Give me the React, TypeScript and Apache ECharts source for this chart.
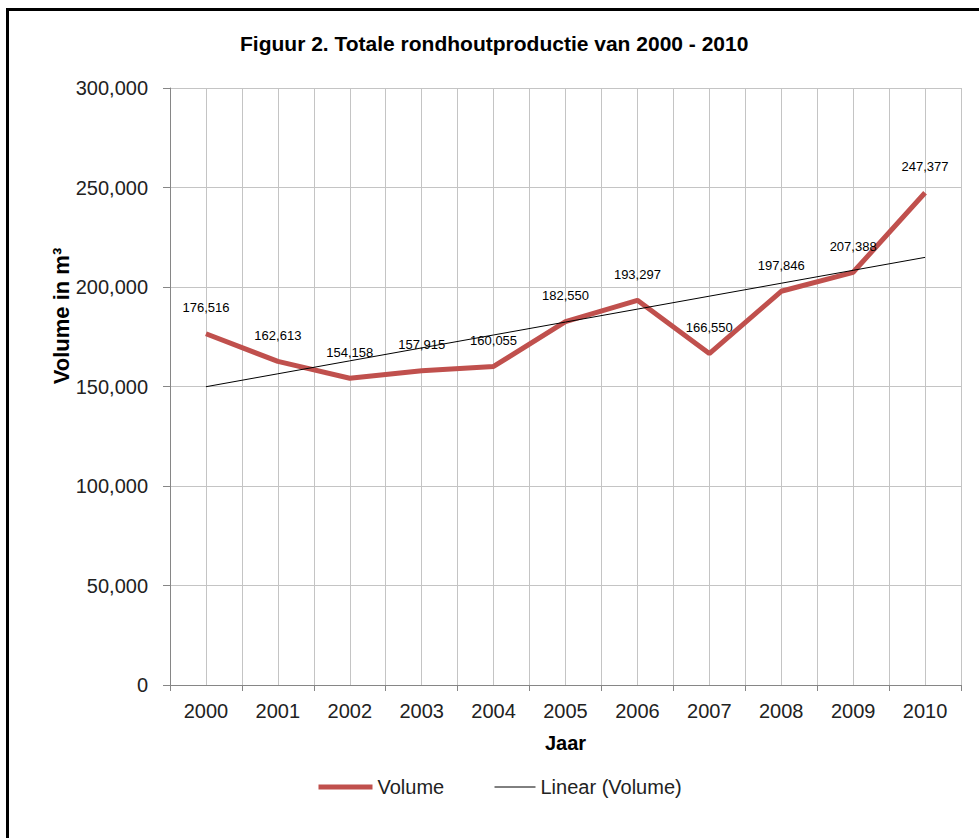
import React, { useEffect, useRef } from "react";
import * as echarts from "echarts";

const years = ["2000", "2001", "2002", "2003", "2004", "2005", "2006", "2007", "2008", "2009", "2010"];
const volume = [176516, 162613, 154158, 157915, 160055, 182550, 193297, 166550, 197846, 207388, 247377];
const yTicks = { min: 0, max: 300000, interval: 50000 };
const titleText = "Figuur 2. Totale rondhoutproductie van 2000 - 2010";

// Linear (least-squares) trendline derived from the Volume series, as the spreadsheet does
function linearFit(vals: number[]): number[] {
  const n = vals.length;
  const mx = (n - 1) / 2;
  const my = vals.reduce((a, b) => a + b, 0) / n;
  let sxy = 0;
  let sxx = 0;
  vals.forEach((v, i) => {
    sxy += (i - mx) * (v - my);
    sxx += (i - mx) * (i - mx);
  });
  const slope = sxy / sxx;
  const b = my - slope * mx;
  return vals.map((_, i) => b + slope * i);
}
const trend = linearFit(volume);

const fmt = (v: number) => Math.round(v).toLocaleString("en-US");

export default function App() {
  const ref = useRef<HTMLDivElement>(null);
  useEffect(() => {
    if (!ref.current) return;
    const chart = echarts.init(ref.current, undefined, { renderer: "svg" });
    const font = "'Liberation Sans', Arial, sans-serif";
    const clear = "rgba(0,0,0,0)";
    chart.setOption({
      animation: false,
      backgroundColor: "#ffffff",
      textStyle: { fontFamily: font },
      title: {
        text: titleText,
        left: 240,
        top: 33,
        padding: 0,
        textStyle: { fontFamily: font, fontSize: 21, fontWeight: "bold", color: "#000" },
      },
      grid: { left: 170, right: 18, top: 88, bottom: 153, containLabel: false },
      legend: [
        {
          data: ["Volume"],
          left: 316,
          top: 777,
          padding: 0,
          itemWidth: 54,
          itemHeight: 14,
          lineStyle: { width: 5, color: "#C0504D" },
          textStyle: { fontFamily: font, fontSize: 20, color: "#222" },
        },
        {
          data: ["Linear (Volume)"],
          left: 494,
          top: 777,
          padding: 0,
          itemWidth: 41,
          itemHeight: 14,
          lineStyle: { width: 1, color: "#000" },
          textStyle: { fontFamily: font, fontSize: 20, color: "#222" },
        },
      ],
      xAxis: [
        {
          type: "category",
          data: years,
          boundaryGap: true,
          name: "Jaar",
          nameLocation: "middle",
          nameGap: 48,
          nameTextStyle: { fontFamily: font, fontSize: 20, fontWeight: "bold", color: "#000" },
          axisLine: { show: true, lineStyle: { color: "#868686", width: 1 } },
          axisTick: { show: true, interval: 0, length: 6, alignWithLabel: false, lineStyle: { color: "#868686" } },
          axisLabel: { interval: 0, margin: 16, fontSize: 20, color: "#222", fontFamily: font },
          splitLine: { show: false },
        },
        {
          type: "value",
          min: 0,
          max: 22,
          interval: 1,
          position: "bottom",
          axisLine: { show: false },
          axisTick: { show: false },
          axisLabel: { show: false },
          splitLine: { show: true, lineStyle: { color: "#c4c4c4", width: 1 } },
        },
      ],
      yAxis: {
        type: "value",
        min: yTicks.min,
        max: yTicks.max,
        interval: yTicks.interval,
        axisLine: { show: true, lineStyle: { color: "#868686", width: 1 } },
        axisTick: { show: true, length: 7, inside: false, lineStyle: { color: "#868686" } },
        axisLabel: { margin: 22, fontSize: 20, color: "#222", fontFamily: font, formatter: (v: number) => fmt(v) },
        splitLine: { show: true, lineStyle: { color: "#c4c4c4", width: 1 } },
      },
      graphic: [
        {
          type: "text",
          x: 61,
          y: 316,
          rotation: Math.PI / 2,
          style: {
            text: "Volume in m³",
            fontFamily: font,
            fontSize: 22,
            fontWeight: "bold",
            fill: "#000",
            align: "center",
            verticalAlign: "middle",
          },
        },
        {
          type: "rect",
          shape: { x: 7.5, y: 9.5, width: 1200, height: 1200 },
          style: { fill: "none", stroke: "#000", lineWidth: 3 },
          silent: true,
        },
      ],
      series: [
        {
          name: "Volume",
          type: "line",
          data: volume,
          xAxisIndex: 0,
          symbol: "circle",
          symbolSize: 1,
          showSymbol: true,
          itemStyle: { color: clear },
          lineStyle: { color: "#C0504D", width: 5 },
          label: {
            show: true,
            position: "top",
            distance: 19,
            fontSize: 13,
            color: "#000",
            fontFamily: font,
            formatter: (p: any) => fmt(p.value),
          },
          z: 2,
        },
        {
          name: "Linear (Volume)",
          type: "line",
          data: trend,
          xAxisIndex: 0,
          symbol: "none",
          lineStyle: { color: "#000", width: 1 },
          itemStyle: { color: clear },
          z: 3,
        },
      ],
    });
    return () => chart.dispose();
  }, []);
  return <div ref={ref} style={{ position: "absolute", left: 0, top: 0, width: 979, height: 838 }} />;
}
